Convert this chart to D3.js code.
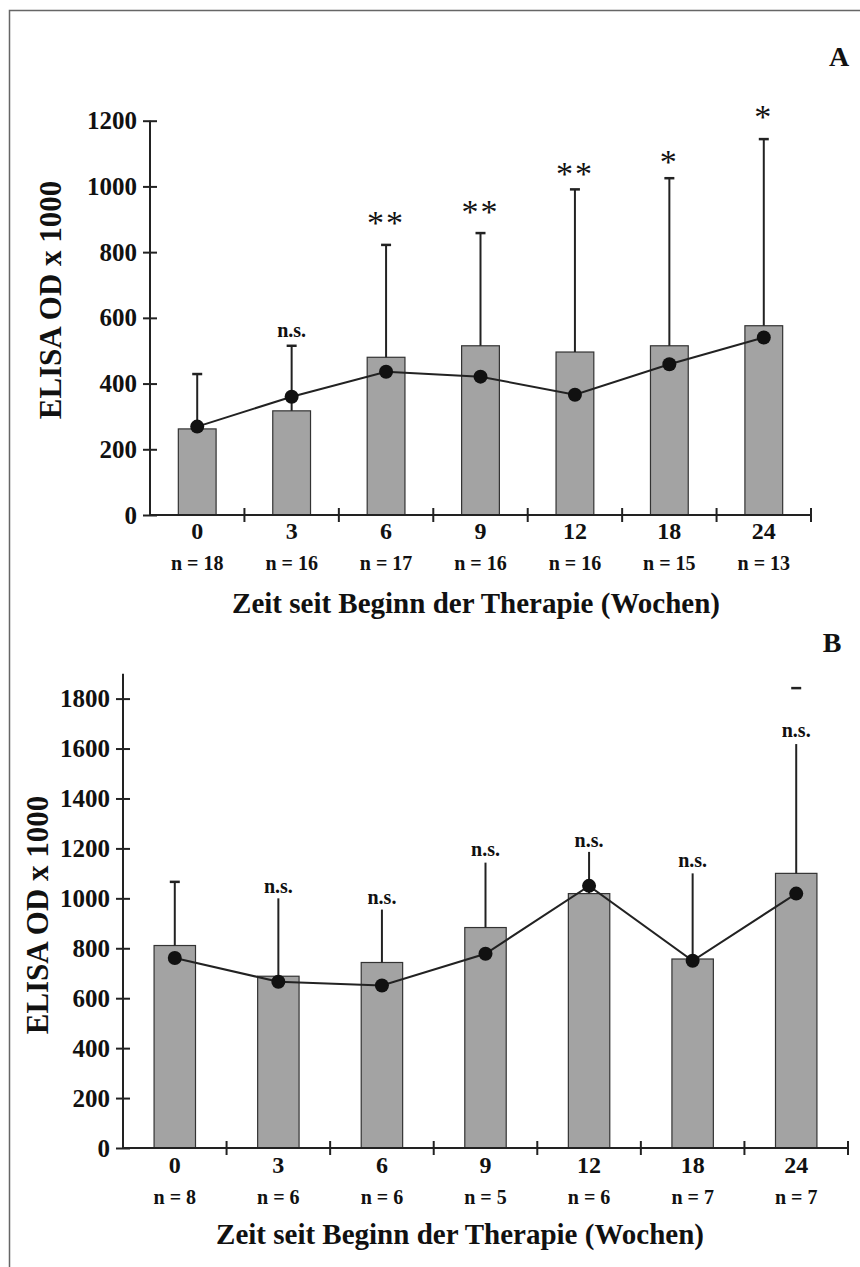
<!DOCTYPE html>
<html>
<head>
<meta charset="utf-8">
<script src="https://cdn.jsdelivr.net/npm/d3@7"></script>
<style>
  body { margin: 0; background: #fff; }
  svg text { font-family: "Liberation Serif", "Times New Roman", serif; fill: #111; }
</style>
</head>
<body>
<div class="chart"></div>
<script>
// categories
const weeks = ["0", "3", "6", "9", "12", "18", "24"];

// panel A
const nA = [18, 16, 17, 16, 16, 15, 13];
const barA = [262, 317, 480, 515, 496, 515, 576];
const errA = [429, 515, 822, 858, 991, 1025, 1144];
const dotA = [269, 360, 436, 421, 366, 459, 540];
const sigA = ["", "n.s.", "**", "**", "**", "*", "*"];
const sigPosA = [null, 555, 905, 936, 1054, 1088, 1225];
const ticksA = [0, 200, 400, 600, 800, 1000, 1200];

// panel B
const nB = [8, 6, 6, 5, 6, 7, 7];
const barB = [811, 688, 743, 883, 1019, 757, 1100];
const errB = [1066, 1000, 955, 1143, 1186, 1100, 1842];
const dotB = [761, 666, 651, 778, 1050, 750, 1019];
const sigB = ["", "n.s.", "n.s.", "n.s.", "n.s.", "n.s.", "n.s."];
const sigPosB = [null, 1039, 994, 1188, 1223, 1144, 1666];
const ticksB = [0, 200, 400, 600, 800, 1000, 1200, 1400, 1600, 1800];

const W = 860, H = 1267;

const svg = d3.select(".chart")
    .append("svg")
    .attr("width", W)
    .attr("height", H);

// scan frame (left + top edge)
svg.append("path")
    .attr("d", `M9.5,${H} V10.5 H${W}`)
    .attr("fill", "none")
    .attr("stroke", "#666")
    .attr("stroke-width", 1.5);

const panels = [
    { name: "A", n: nA, bar: barA, err: errA, dot: dotA, sig: sigA, sigPos: sigPosA, ticks: ticksA,
      left: 150, right: 811, y0: 515, y1: 120.7, max: 1200, axisTop: 1200, caps: true,
      letter: [839, 56], ytitle: [50, 300], xlab: 531, nlab: 563, xtitle: [476, 603] },
    { name: "B", n: nB, bar: barB, err: errB, dot: dotB, sig: sigB, sigPos: sigPosB, ticks: ticksB,
      left: 123, right: 848, y0: 1148, y1: 698.6, max: 1800, axisTop: 1900, caps: false,
      letter: [832, 642], ytitle: [37, 915], xlab: 1165, nlab: 1197, xtitle: [460, 1234] }
];

panels.forEach((p) => {
    const g = svg.append("g");

    const x = d3.scaleBand()
        .domain(weeks)
        .range([p.left, p.right])
        .padding(0);
    const y = d3.scaleLinear()
        .domain([0, p.max])
        .range([p.y0, p.y1]);
    const bw = x.bandwidth() * 0.4;
    const cx = (d) => x(d) + x.bandwidth() / 2;

    // Draw the bars
    g.selectAll("rect.bar")
        .data(weeks)
        .enter()
        .append("rect")
        .attr("class", "bar")
        .attr("x", (d) => cx(d) - bw / 2)
        .attr("width", bw)
        .attr("y", (d, i) => y(p.bar[i]))
        .attr("height", (d, i) => y(0) - y(p.bar[i]))
        .attr("fill", "#a3a3a3")
        .attr("stroke", "#333")
        .attr("stroke-width", 1.2);

    // whiskers (stop under a label that sits lower than the SD top)
    const whiskerTop = (i) => {
        const lp = p.sigPos[i];
        if (lp != null && p.err[i] > lp) return y(lp) + 12;
        return y(p.err[i]);
    };
    g.selectAll("line.whisker")
        .data(weeks)
        .enter()
        .append("line")
        .attr("x1", (d) => cx(d))
        .attr("x2", (d) => cx(d))
        .attr("y1", (d, i) => y(p.bar[i]))
        .attr("y2", (d, i) => whiskerTop(i))
        .attr("stroke", "#222")
        .attr("stroke-width", 2);

    g.selectAll("line.cap")
        .data(weeks.filter((d, i) => p.caps || p.sigPos[i] == null || p.err[i] > p.sigPos[i]))
        .enter()
        .append("line")
        .attr("x1", (d) => cx(d) - 5)
        .attr("x2", (d) => cx(d) + 5)
        .attr("y1", (d) => y(p.err[weeks.indexOf(d)]))
        .attr("y2", (d) => y(p.err[weeks.indexOf(d)]))
        .attr("stroke", "#222")
        .attr("stroke-width", 2.5);

    // line + dots
    const line = d3.line()
        .x((d) => cx(d))
        .y((d, i) => y(p.dot[i]));
    g.append("path")
        .datum(weeks)
        .attr("d", line)
        .attr("fill", "none")
        .attr("stroke", "#222")
        .attr("stroke-width", 2);
    g.selectAll("circle")
        .data(weeks)
        .enter()
        .append("circle")
        .attr("cx", (d) => cx(d))
        .attr("cy", (d, i) => y(p.dot[i]))
        .attr("r", 7)
        .attr("fill", "#111");

    // significance labels
    g.selectAll("text.sig")
        .data(weeks)
        .enter()
        .filter((d, i) => p.sig[i] !== "")
        .append("text")
        .attr("x", (d) => cx(d))
        .attr("y", (d) => y(p.sigPos[weeks.indexOf(d)]))
        .attr("dy", (d) => p.sig[weeks.indexOf(d)] === "n.s." ? "0.23em" : "0.47em")
        .attr("text-anchor", "middle")
        .style("font-size", (d) => p.sig[weeks.indexOf(d)] === "n.s." ? "20px" : "34px")
        .style("font-weight", (d) => p.sig[weeks.indexOf(d)] === "n.s." ? "bold" : "normal")
        .style("letter-spacing", (d) => p.sig[weeks.indexOf(d)] === "n.s." ? "0px" : "2px")
        .text((d) => p.sig[weeks.indexOf(d)]);

    // y axis
    const yAxis = d3.axisLeft(y)
        .tickValues(p.ticks)
        .tickFormat(d3.format("d"))
        .tickSize(7)
        .tickSizeOuter(0);
    const ya = g.append("g")
        .attr("transform", `translate(${p.left},0)`)
        .call(yAxis);
    ya.select(".domain").remove();
    ya.selectAll(".tick line").attr("x1", -7).attr("x2", 7)
        .attr("stroke", "#222").attr("stroke-width", 2);
    ya.selectAll(".tick text")
        .attr("x", -13)
        .style("font-size", "25px")
        .style("font-weight", "bold")
        .style("font-family", "'Liberation Serif', serif")
        .attr("fill", "#111");
    g.append("line")
        .attr("x1", p.left).attr("x2", p.left)
        .attr("y1", y(0)).attr("y2", y(p.axisTop))
        .attr("stroke", "#222").attr("stroke-width", 2);

    // x axis
    g.append("line")
        .attr("x1", p.left).attr("x2", p.right)
        .attr("y1", y(0)).attr("y2", y(0))
        .attr("stroke", "#222").attr("stroke-width", 2);
    g.selectAll("line.xtick")
        .data(weeks)
        .enter()
        .append("line")
        .attr("x1", (d) => x(d) + x.bandwidth())
        .attr("x2", (d) => x(d) + x.bandwidth())
        .attr("y1", y(0) - 7)
        .attr("y2", y(0) + 7)
        .attr("stroke", "#222").attr("stroke-width", 2);

    g.selectAll("text.xlab")
        .data(weeks)
        .enter()
        .append("text")
        .attr("x", (d) => cx(d))
        .attr("y", p.xlab)
        .attr("dy", "0.35em")
        .attr("text-anchor", "middle")
        .style("font-size", "24px")
        .style("font-weight", "bold")
        .text((d) => d);

    g.selectAll("text.nlab")
        .data(weeks)
        .enter()
        .append("text")
        .attr("x", (d) => cx(d))
        .attr("y", p.nlab)
        .attr("dy", "0.35em")
        .attr("text-anchor", "middle")
        .style("font-size", "20px")
        .style("font-weight", "bold")
        .text((d, i) => "n = " + p.n[i]);

    g.append("text")
        .attr("x", p.xtitle[0])
        .attr("y", p.xtitle[1])
        .attr("dy", "0.35em")
        .attr("text-anchor", "middle")
        .style("font-size", "29px")
        .style("font-weight", "bold")
        .text("Zeit seit Beginn der Therapie (Wochen)");

    g.append("text")
        .attr("transform", `translate(${p.ytitle[0]},${p.ytitle[1]}) rotate(-90)`)
        .attr("dy", "0.35em")
        .attr("text-anchor", "middle")
        .style("font-size", "31px")
        .style("font-weight", "bold")
        .text("ELISA OD x 1000");

    g.append("text")
        .attr("x", p.letter[0])
        .attr("y", p.letter[1])
        .attr("dy", "0.35em")
        .attr("text-anchor", "middle")
        .style("font-size", "28px")
        .style("font-weight", "bold")
        .text(p.name);
});
</script>
</body>
</html>
